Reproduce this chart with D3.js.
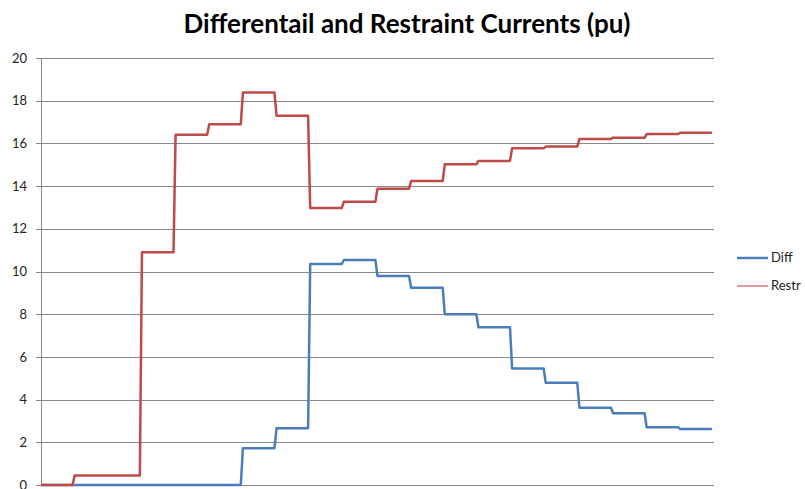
<!DOCTYPE html>
<html>
<head>
<meta charset="utf-8">
<script src="https://cdn.jsdelivr.net/npm/d3@7/dist/d3.min.js"></script>
<style>
  html, body { margin: 0; padding: 0; background: #fff; }
  svg { display: block; }
</style>
</head>
<body>
<svg id="chart" width="805" height="489"></svg>
<script>
// Per-cycle current magnitudes (pu), one value per power-frequency cycle
const cycles = d3.range(20);
const diffValues = [0, 0, 0, 0, 0, 0, 1.72, 2.66, 10.35, 10.54, 9.79, 9.24, 8.0, 7.39, 5.46, 4.79, 3.62, 3.36, 2.70, 2.62];
const restrValues = [0, 0.44, 0.44, 10.9, 16.4, 16.9, 18.38, 17.3, 12.97, 13.27, 13.88, 14.24, 15.02, 15.18, 15.77, 15.85, 16.21, 16.27, 16.44, 16.5];
const yTicks = [0, 2, 4, 6, 8, 10, 12, 14, 16, 18, 20];
const seriesNames = ["Diff", "Restr"];
const samplesPerCycle = 16;

const svg = d3.select("#chart");
const plot = { left: 41, right: 714, top: 58, bottom: 485 };

const x = d3.scaleLinear().domain([0, cycles.length]).range([plot.left, plot.right]);
const y = d3.scaleLinear().domain([0, 20]).range([plot.bottom, plot.top]);

// Title
svg.append("text")
  .attr("x", 407).attr("y", 33)
  .attr("text-anchor", "middle")
  .attr("font-family", "Lato, 'Open Sans', sans-serif")
  .attr("font-weight", "bold")
  .attr("font-size", 26)
  .attr("fill", "#000")
  .text("Differentail and Restraint Currents (pu)");

// Horizontal gridlines + left axis
const yAxis = d3.axisLeft(y)
  .tickValues(yTicks)
  .tickSize(-(plot.right - plot.left))
  .tickPadding(14)
  .tickFormat(d3.format("d"));

const gy = svg.append("g")
  .attr("transform", `translate(${plot.left},0)`)
  .call(yAxis);
gy.select(".domain").remove();
gy.selectAll(".tick line")
  .attr("x1", -5)
  .attr("stroke", "#878787")
  .attr("stroke-width", 1)
  .attr("shape-rendering", "crispEdges");
gy.selectAll(".tick text")
  .attr("font-family", "Lato, 'Open Sans', sans-serif")
  .attr("font-size", 13)
  .attr("fill", "#222");

svg.append("line")
  .attr("x1", plot.left).attr("x2", plot.left)
  .attr("y1", plot.top).attr("y2", plot.bottom)
  .attr("stroke", "#878787")
  .attr("shape-rendering", "crispEdges");

// Each cycle holds its value until one sample before the next cycle starts
function stepPoints(values) {
  const pts = [];
  values.forEach((v, k) => {
    pts.push([k, v]);
    pts.push([k + 1 - 1 / samplesPerCycle, v]);
  });
  return pts;
}

const line = d3.line()
  .x(d => x(d[0]))
  .y(d => y(d[1]));

// Diff first so Restr sits on top where both are at zero
const series = [
  { name: seriesNames[0], values: diffValues, color: "#4A7EBB" },
  { name: seriesNames[1], values: restrValues, color: "#BE4B48" }
];

series.forEach(s => {
  svg.append("path")
    .datum(stepPoints(s.values))
    .attr("fill", "none")
    .attr("stroke", s.color)
    .attr("stroke-width", 2.5)
    .attr("stroke-linejoin", "round")
    .attr("d", line);
});

// Legend
const legend = svg.append("g");
const legendItems = [
  { name: seriesNames[0], color: "#4A7EBB", width: 2.5, yPos: 258 },
  { name: seriesNames[1], color: "#D07A78", width: 1.5, yPos: 286 }
];
legendItems.forEach(it => {
  legend.append("line")
    .attr("x1", 737).attr("x2", 768)
    .attr("y1", it.yPos).attr("y2", it.yPos)
    .attr("stroke", it.color)
    .attr("stroke-width", it.width);
  legend.append("text")
    .attr("x", 771).attr("y", it.yPos + 4)
    .attr("font-family", "Lato, 'Open Sans', sans-serif")
    .attr("font-size", 13)
    .attr("fill", "#222")
    .text(it.name);
});
</script>
</body>
</html>
